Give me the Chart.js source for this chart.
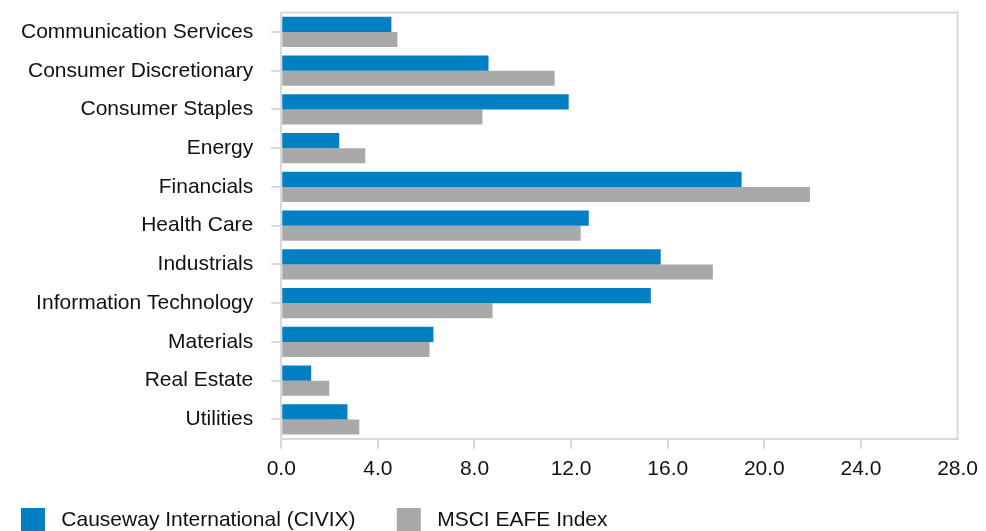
<!DOCTYPE html>
<html>
<head>
<meta charset="utf-8">
<script src="https://cdn.jsdelivr.net/npm/chart.js@4.4.1/dist/chart.umd.min.js"></script>
<style>
  html, body { margin: 0; padding: 0; background: #fff; overflow: hidden; }
  #wrap { width: 986px; height: 560px; position: absolute; left: 0; top: -18px; }
</style>
</head>
<body>
<div id="wrap"><canvas id="myChart"></canvas></div>
<script>
// sector weights (%)
var sectors = ['Communication Services', 'Consumer Discretionary', 'Consumer Staples', 'Energy', 'Financials',
  'Health Care', 'Industrials', 'Information Technology', 'Materials', 'Real Estate', 'Utilities'];
var civix = [4.56, 8.58, 11.90, 2.40, 19.06, 12.73, 15.71, 15.30, 6.30, 1.24, 2.74];
var eafe = [4.81, 11.32, 8.33, 3.48, 21.89, 12.40, 17.87, 8.75, 6.14, 1.99, 3.23];
var seriesNames = ['Causeway International (CIVIX)', 'MSCI EAFE Index'];
var xTicks = [0, 4, 8, 12, 16, 20, 24, 28];

var lineGrey = '#d9d9d9';
var textCol = '#111';
var font = { family: 'Arial, "Liberation Sans", sans-serif', size: 21 };

// top + right frame of the plot area
var frame = {
  id: 'frame',
  afterDraw: function (c) {
    var a = c.chartArea, ctx = c.ctx;
    ctx.save();
    ctx.strokeStyle = lineGrey;
    ctx.lineWidth = 2;
    ctx.beginPath();
    ctx.moveTo(a.left, a.top);
    ctx.lineTo(a.right, a.top);
    ctx.lineTo(a.right, a.bottom);
    ctx.stroke();
    ctx.restore();
  }
};

var myChart = new Chart(document.getElementById('myChart').getContext('2d'), {
  type: 'bar',
  data: {
    labels: sectors,
    datasets: [
      { label: seriesNames[0], data: civix, backgroundColor: '#0080c3' },
      { label: seriesNames[1], data: eafe, backgroundColor: '#a9a9a9' }
    ]
  },
  options: {
    indexAxis: 'y',
    responsive: true,
    maintainAspectRatio: false,
    animation: false,
    categoryPercentage: 0.78,
    barPercentage: 1,
    layout: { padding: { top: 0, right: 0, left: 3, bottom: 0 } },
    scales: {
      x: {
        min: xTicks[0],
        max: xTicks[xTicks.length - 1],
        afterBuildTicks: function (axis) {
          axis.ticks = xTicks.map(function (v) { return { value: v }; });
        },
        ticks: {
          color: textCol, font: font, padding: 8,
          callback: function (v) { return Number(v).toFixed(1); }
        },
        grid: {
          drawOnChartArea: false, tickLength: 10, lineWidth: 2,
          color: function (ctx) { return ctx.tick && ctx.tick.value === 28 ? 'rgba(0,0,0,0)' : lineGrey; }
        },
        border: { color: lineGrey, width: 2 }
      },
      y: {
        ticks: { color: textCol, font: font, padding: 18 },
        grid: { drawOnChartArea: false, offset: false, tickLength: 10, lineWidth: 2, color: lineGrey },
        border: { color: lineGrey, width: 2 }
      }
    },
    plugins: {
      legend: {
        position: 'bottom',
        align: 'start',
        labels: {
          color: textCol, font: font, boxWidth: 24, boxHeight: 24, padding: 18,
          generateLabels: function (c) {
            return Chart.defaults.plugins.legend.labels.generateLabels(c).map(function (it) {
              it.text = ' ' + it.text + '    ';
              return it;
            });
          }
        }
      },
      tooltip: { enabled: false }
    }
  },
  plugins: [frame]
});
</script>
</body>
</html>
